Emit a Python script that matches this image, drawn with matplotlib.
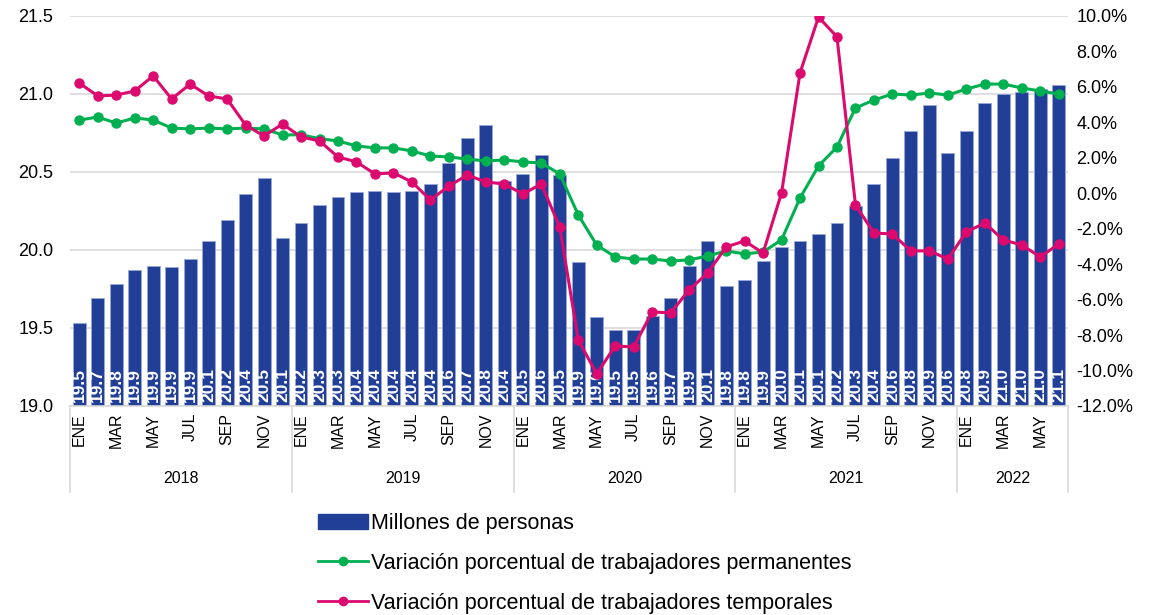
import matplotlib.pyplot as plt
import matplotlib.transforms as mtransforms
from matplotlib.lines import Line2D
from matplotlib.patches import Patch

plt.rcParams['font.family'] = ['Liberation Sans', 'DejaVu Sans']

years = ['2018', '2019', '2020', '2021', '2022']
months_per_year = [12, 12, 12, 12, 6]
month_names = ['ENE', 'FEB', 'MAR', 'ABR', 'MAY', 'JUN',
               'JUL', 'AGO', 'SEP', 'OCT', 'NOV', 'DIC']

# millones de personas
ocupados = [19.53, 19.69, 19.78, 19.87, 19.90, 19.89, 19.94, 20.06, 20.19, 20.36, 20.46, 20.08,
            20.17, 20.29, 20.34, 20.37, 20.38, 20.37, 20.38, 20.42, 20.56, 20.72, 20.80, 20.44,
            20.49, 20.61, 20.48, 19.92, 19.57, 19.49, 19.49, 19.58, 19.69, 19.90, 20.06, 19.77,
            19.81, 19.93, 20.02, 20.06, 20.10, 20.17, 20.28, 20.42, 20.59, 20.76, 20.93, 20.62,
            20.76, 20.94, 21.00, 21.01, 21.03, 21.06]

# variacion % permanentes
permanentes = [4.13, 4.30, 3.96, 4.25, 4.13, 3.68, 3.63, 3.68, 3.63, 3.68, 3.63, 3.29,
               3.30, 3.08, 2.95, 2.67, 2.56, 2.56, 2.39, 2.10, 2.05, 1.93, 1.82, 1.88,
               1.77, 1.71, 1.09, -1.22, -2.92, -3.59, -3.71, -3.71, -3.82, -3.76, -3.54, -3.25,
               -3.42, -3.31, -2.63, -0.27, 1.54, 2.61, 4.81, 5.26, 5.60, 5.54, 5.66, 5.54,
               5.88, 6.16, 6.16, 5.94, 5.77, 5.60]

# variacion % temporales
temporales = [6.22, 5.49, 5.54, 5.77, 6.62, 5.32, 6.16, 5.49, 5.32, 3.85, 3.23, 3.91,
              3.18, 2.95, 2.05, 1.77, 1.09, 1.15, 0.64, -0.38, 0.41, 1.03, 0.64, 0.52,
              -0.04, 0.52, -1.90, -8.27, -10.19, -8.61, -8.67, -6.69, -6.75, -5.45, -4.50, -3.03,
              -2.69, -3.37, 0.02, 6.79, 9.94, 8.82, -0.66, -2.24, -2.30, -3.25, -3.25, -3.71,
              -2.18, -1.68, -2.63, -2.92, -3.59, -2.86]

bar_color = '#223F98'
green = '#00B050'
pink = '#DC0A6E'

x = list(range(len(ocupados)))
labels = []
for n in months_per_year:
    labels += month_names[:n]

fig = plt.figure(figsize=(11.58, 6.15), dpi=100)
ax = fig.add_axes([70 / 1158, 1 - 406 / 615, 998 / 1158, 390 / 615])

ax.bar(x, [v - 19.0 for v in ocupados], bottom=19.0, width=0.7,
       color=bar_color, edgecolor='#9AA8DA', linewidth=0.6, zorder=2)
for i, v in zip(x, ocupados):
    ax.text(i, 19.025, f'{v:.1f}', rotation=90, ha='center', va='bottom',
            color='white', fontsize=12.5, fontweight='bold', zorder=3)

ax.set_ylim(19.0, 21.5)
ax.set_yticks([19.0, 19.5, 20.0, 20.5, 21.0, 21.5])
ax.set_yticklabels(['19.0', '19.5', '20.0', '20.5', '21.0', '21.5'])
ax.set_xlim(-0.5, len(x) - 0.5)
ax.grid(axis='y', color='#D9D9D9', linewidth=1.2, zorder=0)
ax.set_axisbelow(True)
for s in ['top', 'left', 'right']:
    ax.spines[s].set_visible(False)
ax.spines['bottom'].set_color('#D9D9D9')
ax.spines['bottom'].set_linewidth(1.2)
ax.tick_params(axis='y', length=0, labelsize=13, pad=12)

tick_pos = [i for i in x if labels[i] in ('ENE', 'MAR', 'MAY', 'JUL', 'SEP', 'NOV')]
ax.set_xticks(tick_pos)
ax.set_xticklabels([labels[i] for i in tick_pos], rotation=90, fontsize=11.5)
ax.tick_params(axis='x', length=0, pad=5)

# year groups
trans = mtransforms.blended_transform_factory(ax.transData, ax.transAxes)
start = 0
edges = [-0.5]
for yr, n in zip(years, months_per_year):
    ax.text(start + (n - 1) / 2, -0.185, yr, transform=trans, ha='center',
            va='center', fontsize=11.5)
    start += n
    edges.append(start - 0.5)
for e in edges:
    ax.plot([e, e], [0, -0.22], transform=trans, color='#D9D9D9',
            linewidth=1.2, clip_on=False)

ax2 = ax.twinx()
ax2.plot(x, permanentes, color=green, linewidth=2.2, marker='o', markersize=6.5)
ax2.plot(x, temporales, color=pink, linewidth=2.2, marker='o', markersize=6.5)
ax2.set_ylim(-12, 10)
ax2.set_yticks(range(-12, 11, 2))
ax2.set_yticklabels([f'{t:.1f}%' for t in range(-12, 11, 2)])
ax2.tick_params(axis='y', length=0, labelsize=13, pad=6)
for s in ['top', 'left', 'right', 'bottom']:
    ax2.spines[s].set_visible(False)

handles = [Patch(color=bar_color),
           Line2D([], [], color=green, linewidth=2, marker='o', markersize=6),
           Line2D([], [], color=pink, linewidth=2, marker='o', markersize=6)]
names = ['Millones de personas',
         'Variación porcentual de trabajadores permanentes',
         'Variación porcentual de trabajadores temporales']
fig.legend(handles, names, loc='upper left', bbox_to_anchor=(318 / 1158, 1 - 513 / 615),
           frameon=False, fontsize=15.5, labelspacing=0.88, handlelength=2.3,
           handletextpad=0.15, borderpad=0, borderaxespad=0, handleheight=0.7)

fig.savefig('out.png', dpi=100)
